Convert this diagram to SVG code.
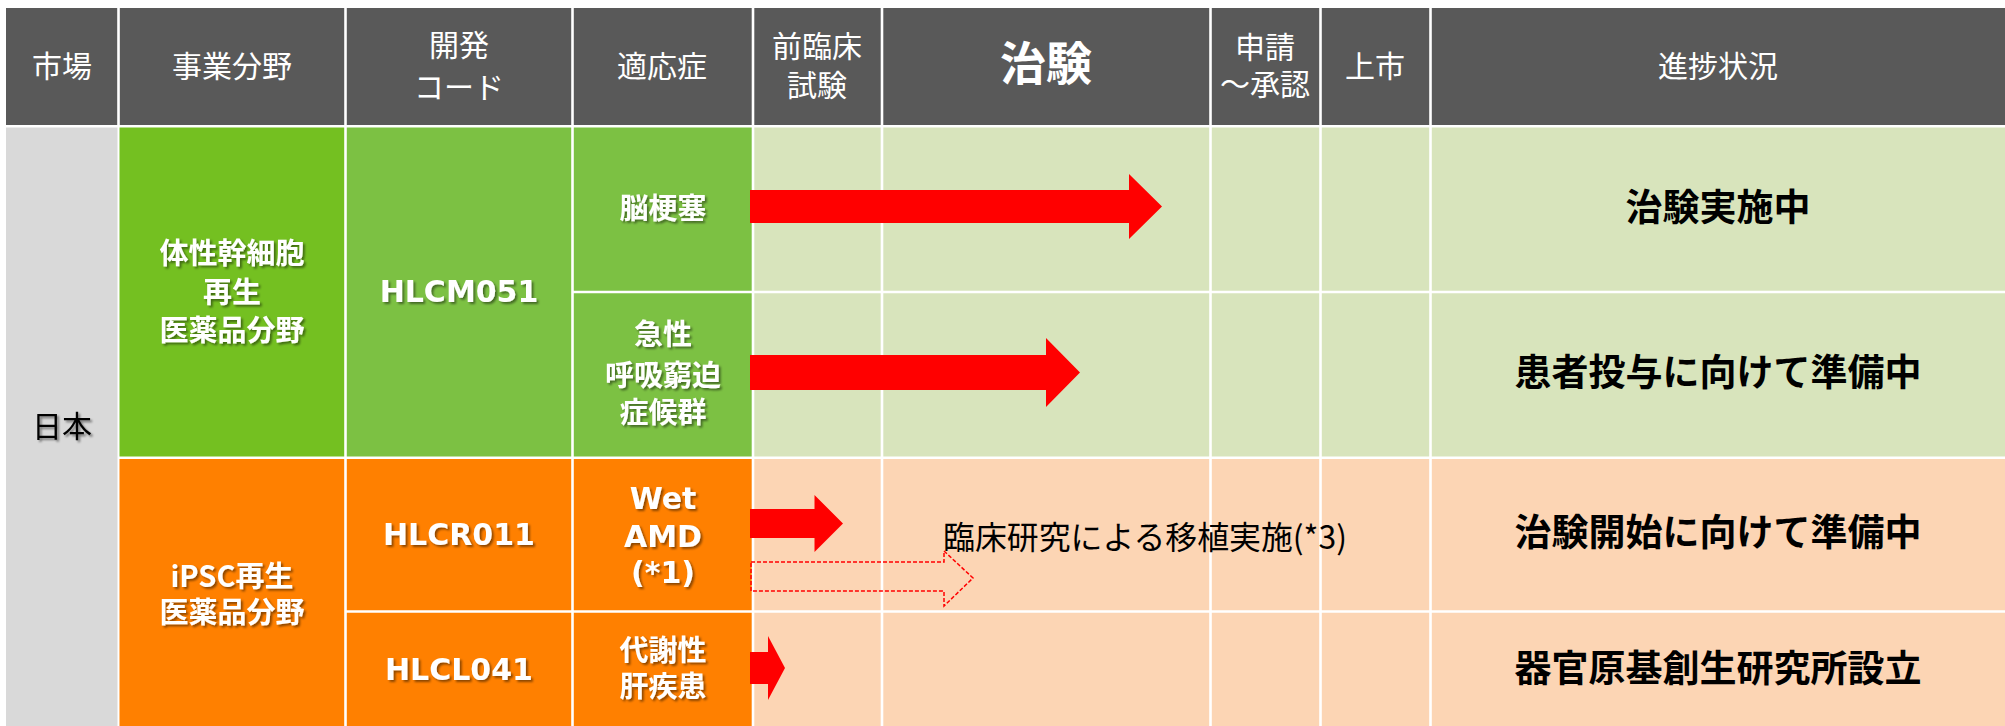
<svg xmlns="http://www.w3.org/2000/svg" width="2005" height="726" viewBox="0 0 2005 726">
<defs>
<style>
.hd{font-family:"Noto Sans CJK JP","Noto Sans",sans-serif;font-size:30px;fill:#ffffff;text-anchor:middle}
.hdb{font-family:"Noto Sans CJK JP","Noto Sans",sans-serif;font-size:46px;font-weight:700;fill:#ffffff;text-anchor:middle}
.wj{font-family:"Noto Sans CJK JP","Noto Sans",sans-serif;font-size:29px;font-weight:700;fill:#ffffff;text-anchor:middle}
.code{font-family:"DejaVu Sans","Liberation Sans",sans-serif;font-size:30px;font-weight:700;fill:#ffffff;text-anchor:middle}
.st{font-family:"Noto Sans CJK JP","Noto Sans",sans-serif;font-size:37px;font-weight:700;fill:#000000;text-anchor:middle}
.bk{font-family:"Noto Sans CJK JP","Noto Sans",sans-serif;font-size:30px;fill:#000000;text-anchor:middle}
.note{font-family:"Noto Sans CJK JP","Noto Sans",sans-serif;font-size:32px;fill:#000000}
.sep{stroke:#ffffff;stroke-width:2.6;fill:none}
.arr{fill:#ff0000}
.darr{fill:none;stroke:#ff0000;stroke-width:1.5;stroke-dasharray:4 2}
</style>
<filter id="sh" x="-10%" y="-20%" width="130%" height="150%">
<feDropShadow dx="2" dy="2" stdDeviation="1.2" flood-color="#000000" flood-opacity="0.45"/>
</filter>
</defs>
<rect x="0" y="0" width="2005" height="726" fill="#ffffff"/>

<g id="header">
<rect x="6" y="8" width="1999" height="117" fill="#595959"/>
<g class="sep">
<line x1="118.5" y1="8" x2="118.5" y2="125"/>
<line x1="345.5" y1="8" x2="345.5" y2="125"/>
<line x1="572.5" y1="8" x2="572.5" y2="125"/>
<line x1="753" y1="8" x2="753" y2="125"/>
<line x1="882" y1="8" x2="882" y2="125"/>
<line x1="1210.5" y1="8" x2="1210.5" y2="125"/>
<line x1="1320.5" y1="8" x2="1320.5" y2="125"/>
<line x1="1430.5" y1="8" x2="1430.5" y2="125"/>
</g>
<text class="hd" x="62" y="77">市場</text>
<text class="hd" x="232" y="77">事業分野</text>
<text class="hd" x="459" y="56">開発</text>
<text class="hd" x="459" y="98">コード</text>
<text class="hd" x="662" y="77">適応症</text>
<text class="hd" x="817" y="57">前臨床</text>
<text class="hd" x="817" y="96">試験</text>
<text class="hdb" x="1046" y="80">治験</text>
<text class="hd" x="1265" y="58">申請</text>
<text class="hd" x="1265" y="95">～承認</text>
<text class="hd" x="1375" y="77">上市</text>
<text class="hd" x="1718" y="77">進捗状況</text>
</g>

<g id="body-cells">
<rect x="6" y="127.5" width="111.5" height="598.5" fill="#d9d9d9"/>
<rect x="119.5" y="127.5" width="226" height="330" fill="#74c021"/>
<rect x="345.5" y="127.5" width="407" height="330" fill="#7cc143"/>
<rect x="753" y="127.5" width="1252" height="330" fill="#d8e4bc"/>
<rect x="119.5" y="457.5" width="633" height="268.5" fill="#ff8000"/>
<rect x="753" y="457.5" width="1252" height="268.5" fill="#fcd5b4"/>
<g class="sep">
<line x1="345.5" y1="127" x2="345.5" y2="726"/>
<line x1="572.5" y1="127" x2="572.5" y2="726"/>
<line x1="753" y1="127" x2="753" y2="726"/>
<line x1="882" y1="127" x2="882" y2="726"/>
<line x1="1210.5" y1="127" x2="1210.5" y2="726"/>
<line x1="1320.5" y1="127" x2="1320.5" y2="726"/>
<line x1="1430.5" y1="127" x2="1430.5" y2="726"/>
<line x1="572" y1="292" x2="2005" y2="292"/>
<line x1="119" y1="457.7" x2="2005" y2="457.7"/>
<line x1="345" y1="611.5" x2="2005" y2="611.5"/>
</g>
</g>

<g id="market">
<text class="bk" x="62" y="437" filter="url(#sh)">日本</text>
</g>

<g id="field-somatic" filter="url(#sh)">
<text class="wj" x="232" y="264">体性幹細胞</text>
<text class="wj" x="232" y="303">再生</text>
<text class="wj" x="232" y="341">医薬品分野</text>
</g>
<g id="field-ipsc" filter="url(#sh)">
<text class="wj" x="232" y="587">iPSC再生</text>
<text class="wj" x="232" y="623">医薬品分野</text>
</g>

<g id="code-hlcm051" filter="url(#sh)"><text class="code" x="459" y="302">HLCM051</text></g>
<g id="code-hlcr011" filter="url(#sh)"><text class="code" x="459" y="545">HLCR011</text></g>
<g id="code-hlcl041" filter="url(#sh)"><text class="code" x="459" y="680">HLCL041</text></g>

<g id="ind-stroke" filter="url(#sh)"><text class="wj" x="663" y="219">脳梗塞</text></g>
<g id="ind-ards" filter="url(#sh)">
<text class="wj" x="663" y="345">急性</text>
<text class="wj" x="663" y="386">呼吸窮迫</text>
<text class="wj" x="663" y="423">症候群</text>
</g>
<g id="ind-amd" filter="url(#sh)">
<text class="code" x="663" y="509">Wet</text>
<text class="code" x="663" y="547">AMD</text>
<text class="code" x="663" y="583">(*1)</text>
</g>
<g id="ind-liver" filter="url(#sh)">
<text class="wj" x="663" y="661">代謝性</text>
<text class="wj" x="663" y="697">肝疾患</text>
</g>

<g id="status">
<text class="st" x="1718" y="221">治験実施中</text>
<text class="st" x="1718" y="386">患者投与に向けて準備中</text>
<text class="st" x="1718" y="546">治験開始に向けて準備中</text>
<text class="st" x="1718" y="682">器官原基創生研究所設立</text>
</g>

<g id="connectors">
<polygon class="arr" points="750,190 1129,190 1129,174 1162,206.5 1129,239 1129,223 750,223"/>
<polygon class="arr" points="750,355 1046,355 1046,338 1080,372.5 1046,407 1046,390 750,390"/>
<polygon class="arr" points="750,509 814.5,509 814.5,495 843,523.5 814.5,552 814.5,538 750,538"/>
<polygon class="darr" points="751,562 944,562 944,551 973,578 944,606 944,591 751,591"/>
<polygon class="arr" points="750,652 768,652 768,636 785,668 768,700 768,684 750,684"/>
</g>

<g id="note">
<text class="note" x="943" y="549" textLength="404" lengthAdjust="spacingAndGlyphs">臨床研究による移植実施(*3)</text>
</g>
</svg>
